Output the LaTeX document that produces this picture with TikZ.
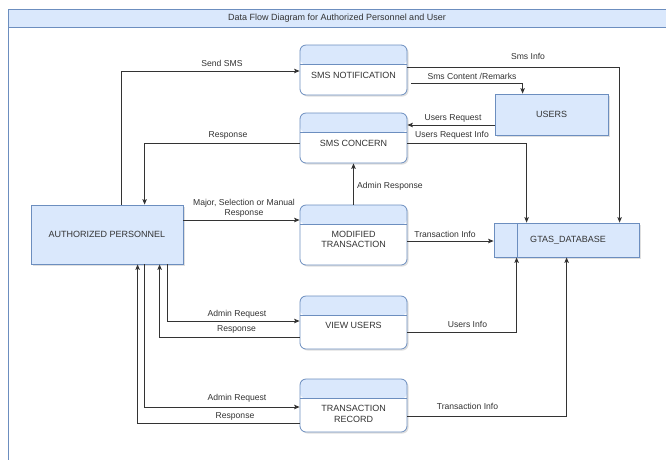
\documentclass[tikz,border=0pt]{standalone}
\usepackage{fontspec}
\setmainfont{Liberation Sans}
\usetikzlibrary{arrows.meta,shadows}
\definecolor{boxfill}{HTML}{DAE8FC}
\definecolor{boxline}{HTML}{6C8EBF}
\definecolor{ink}{HTML}{333333}

\begin{document}
\begin{tikzpicture}[x=1pt,y=-1pt,
  font=\fontsize{9}{10.5}\selectfont,
  every node/.style={inner sep=0pt, text=ink},
  softshadow/.style={drop shadow={shadow xshift=1.5pt,shadow yshift=-1.5pt,opacity=0.25,fill=black!50}},
  entity/.style={draw=boxline, fill=boxfill, line width=0.8pt, softshadow},
  proc/.style={draw=boxline, fill=white, line width=0.8pt, rounded corners=6pt,
    minimum width=107pt, minimum height=#1, softshadow,
    path picture={
      \fill[boxfill] (path picture bounding box.north west) rectangle
        ([yshift=-19.5pt]path picture bounding box.north east);
      \draw[boxline, line width=0.8pt] ([yshift=-19.5pt]path picture bounding box.north west)
        -- ([yshift=-19.5pt]path picture bounding box.north east);}},
  store/.style={entity, minimum width=145pt, minimum height=34pt,
    path picture={
      \draw[boxline, line width=0.8pt] ([xshift=23pt]path picture bounding box.north west)
        -- ([xshift=23pt]path picture bounding box.south west);}},
  proctext/.style={align=center},
  lbl/.style={align=center, font=\fontsize{8.6}{10.5}\selectfont},
  flow/.style={draw=ink, line width=0.8pt, -{Stealth[length=5.5pt,width=4.5pt,inset=1.2pt]}}
]
\useasboundingbox (0,0) rectangle (666,459);
\fill[white] (0,0) rectangle (666,459);

% pool with its title bar
\fill[boxfill] (8,9) rectangle (680,27);
\draw[boxline, line width=0.9pt] (680,9) -- (8,9) -- (8,480);
\draw[boxline, line width=0.9pt] (8,27) -- (680,27);
\node (title) at (337,18) {Data Flow Diagram for Authorized Personnel and User};

% external entities and data store
\node[entity, minimum width=152pt, minimum height=59pt] (ap) at (107,234.5) {AUTHORIZED PERSONNEL};
\node[entity, minimum width=113pt, minimum height=41pt] (users) at (551.5,114.5) {USERS};
\node[store] (db) at (566.5,240) {\hspace{3pt}GTAS\_DATABASE};

% processes
\node[proc=50pt] (smsn) at (353.5,70) {};
\node[proctext] (smsn-t) at (353.5,75) {SMS NOTIFICATION};
\node[proc=50pt] (smsc) at (353.5,138) {};
\node[proctext] (smsc-t) at (353.5,143) {SMS CONCERN};
\node[proc=60pt] (mt) at (353.5,235) {};
\node[proctext] (mt-t) at (353.5,239.5) {MODIFIED\\TRANSACTION};
\node[proc=53pt] (vu) at (353.5,322.5) {};
\node[proctext] (vu-t) at (353.5,325) {VIEW USERS};
\node[proc=53pt] (tr) at (353.5,405.5) {};
\node[proctext] (tr-t) at (353.5,414) {TRANSACTION\\RECORD};

% flows around the SMS processes
\draw[flow] ([xshift=91pt]ap.north west) |- ([yshift=-1pt]smsn.west);
\node[lbl] (l-send) at (222,63) {Send SMS};
\draw[flow] ([yshift=-5pt]smsc.west) -| ([xshift=114pt]ap.north west);
\node[lbl] (l-resp1) at (228,135) {Response};
\draw[flow] ([yshift=3pt]smsn.east) -| ([xshift=126pt]db.north west);
\node[lbl] (l-smsinfo) at (528,56) {Sms Info};
\draw[flow] ([xshift=4pt,yshift=-13pt]smsn.east) -| ([xshift=28pt]users.north west);
\node[lbl] (l-content) at (472,76) {Sms Content /Remarks};
\draw[flow] ([yshift=-10.5pt]users.west) -- ([yshift=13pt]smsc.east);
\node[lbl] (l-ureq) at (453,118) {Users Request};
\draw[flow] ([yshift=-5pt]smsc.east) -| ([xshift=33pt]db.north west);
\node[lbl] (l-ureqinfo) at (452,135.5) {Users Request Info};
\draw[flow] (mt.north) -- (smsc.south);
\node[lbl, anchor=west] (l-adminresp) at (357,186) {Admin Response};

% modified transaction
\draw[flow] ([yshift=14.5pt]ap.east) -- ([yshift=15pt]mt.west);
\node[lbl] (l-major) at (244,208.5) {Major, Selection or Manual\\Response};
\draw[flow] ([yshift=-6pt]mt.east) -- ([yshift=-1pt]db.west);
\node[lbl] (l-tinfo1) at (445,234) {Transaction Info};

% view users
\draw[flow] ([xshift=137pt]ap.south west) |- ([yshift=1.5pt]vu.west);
\node[lbl] (l-areq1) at (237,314) {Admin Request};
\draw[flow] ([yshift=-14.5pt]vu.west) -| ([xshift=129pt]ap.south west);
\node[lbl] (l-resp2) at (236.5,329) {Response};
\draw[flow] ([yshift=-9.5pt]vu.east) -| ([xshift=23pt]db.south west);
\node[lbl] (l-uinfo) at (467.5,324) {Users Info};

% transaction record
\draw[flow] ([xshift=114pt]ap.south west) |- ([yshift=-1.5pt]tr.west);
\node[lbl] (l-areq2) at (237,398) {Admin Request};
\draw[flow] ([yshift=-17.5pt]tr.west) -| ([xshift=107pt]ap.south west);
\node[lbl] (l-resp3) at (235,416) {Response};
\draw[flow] ([yshift=-10.5pt]tr.east) -| ([xshift=73pt]db.south west);
\node[lbl] (l-tinfo2) at (467.5,406) {Transaction Info};
\end{tikzpicture}
\end{document}
